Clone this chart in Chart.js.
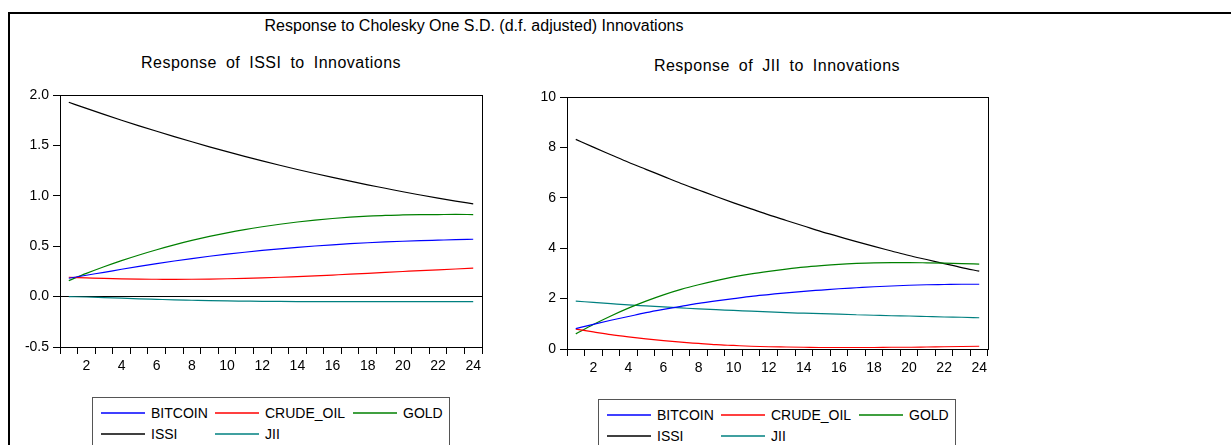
<!DOCTYPE html>
<html>
<head>
<meta charset="utf-8">
<title>Response to Cholesky One S.D. Innovations</title>
<script src="https://cdn.jsdelivr.net/npm/chart.js@4.4.0/dist/chart.umd.min.js"></script>
<style>
    body { margin: 0; background: #fff; font-family: "Liberation Sans", Arial, sans-serif; }
    #page { position: relative; width: 1231px; height: 445px; overflow: hidden; }
    .frame { position: absolute; left: 8px; top: 12px; width: 1240px; height: 450px;
        border-top: 2px solid #000; border-left: 2px solid #000; }
    .title { position: absolute; text-align: center; color: #000; white-space: nowrap; }
    .chartBox { position: absolute; }
    .legend { position: absolute; width: 356px; height: 60px; border: 1px solid #555; }
    .item { position: absolute; height: 18px; display: flex; align-items: center;
        font-size: 14px; color: #000; white-space: nowrap; }
    .item span.line { display: inline-block; width: 44px; height: 2px; margin-right: 6px; opacity: 0.75; }
</style>
</head>
<body>
<div id="page">
    <div class="frame"></div>
    <div class="title" style="left:0; width:948px; top:16px; font-size:16px; line-height:20px;">Response to Cholesky One S.D. (d.f. adjusted) Innovations</div>
    <div class="title" style="left:71px; width:400px; top:53px; font-size:16px; line-height:20px; letter-spacing:0.5px; word-spacing:4px;">Response of ISSI to Innovations</div>
    <div class="title" style="left:577px; width:400px; top:56px; font-size:16px; line-height:20px; letter-spacing:0.5px; word-spacing:4px;">Response of JII to Innovations</div>

    <div class="chartBox" style="left:0; top:80px; width:495px; height:300px;"><canvas id="chartIssi"></canvas></div>
    <div class="chartBox" style="left:500px; top:82px; width:500px; height:300px;"><canvas id="chartJii"></canvas></div>

    <div class="legend" id="legendIssi" style="left:92px; top:397px;"></div>
    <div class="legend" id="legendJii" style="left:598px; top:399px;"></div>
</div>

<script>
"use strict";

/* perioder och etiketter */
const periods = ['1', '2', '3', '4', '5', '6', '7', '8', '9', '10', '11', '12',
    '13', '14', '15', '16', '17', '18', '19', '20', '21', '22', '23', '24'];
const xTickLabels = ['2', '4', '6', '8', '10', '12', '14', '16', '18', '20', '22', '24'];

const seriesNames = ['BITCOIN', 'CRUDE_OIL', 'GOLD', 'ISSI', 'JII'];
const seriesColors = ['#0000ff', '#ff0000', '#008000', '#000000', '#008080'];

/* Response of ISSI */
const issiBitcoin = [0.182, 0.212, 0.241, 0.271, 0.300, 0.327, 0.353, 0.377, 0.400, 0.421, 0.440, 0.458,
    0.474, 0.489, 0.502, 0.514, 0.525, 0.534, 0.542, 0.549, 0.555, 0.560, 0.565, 0.569];
const issiCrudeOil = [0.192, 0.186, 0.180, 0.176, 0.173, 0.172, 0.171, 0.172, 0.174, 0.177, 0.181, 0.186,
    0.192, 0.199, 0.206, 0.214, 0.222, 0.231, 0.240, 0.249, 0.258, 0.266, 0.274, 0.282];
const issiGold = [0.159, 0.230, 0.296, 0.357, 0.413, 0.465, 0.513, 0.557, 0.597, 0.633, 0.665, 0.693,
    0.718, 0.740, 0.759, 0.775, 0.788, 0.798, 0.806, 0.810, 0.813, 0.814, 0.815, 0.814];
const issiIssi = [1.928, 1.867, 1.808, 1.750, 1.694, 1.640, 1.587, 1.536, 1.486, 1.438, 1.391, 1.346,
    1.303, 1.261, 1.221, 1.182, 1.145, 1.109, 1.075, 1.040, 1.008, 0.977, 0.948, 0.920];
const issiJii = [0.000, -0.004, -0.010, -0.016, -0.022, -0.027, -0.032, -0.036, -0.040, -0.043, -0.045, -0.047,
    -0.048, -0.049, -0.050, -0.050, -0.050, -0.050, -0.050, -0.050, -0.050, -0.050, -0.050, -0.050];
const issiYTicks = [-0.5, 0.0, 0.5, 1.0, 1.5, 2.0];

/* Response of JII */
const jiiBitcoin = [0.81, 0.98, 1.14, 1.29, 1.44, 1.57, 1.69, 1.81, 1.91, 2.00, 2.09, 2.16,
    2.23, 2.29, 2.34, 2.39, 2.43, 2.47, 2.50, 2.53, 2.55, 2.56, 2.57, 2.57];
const jiiCrudeOil = [0.79, 0.68, 0.57, 0.48, 0.40, 0.33, 0.27, 0.22, 0.17, 0.14, 0.11, 0.09,
    0.08, 0.07, 0.06, 0.06, 0.06, 0.06, 0.07, 0.07, 0.08, 0.09, 0.10, 0.11];
const jiiGold = [0.60, 0.97, 1.31, 1.62, 1.90, 2.15, 2.365, 2.55, 2.715, 2.86, 2.98, 3.08,
    3.17, 3.25, 3.31, 3.36, 3.395, 3.42, 3.43, 3.43, 3.42, 3.405, 3.385, 3.37];
const jiiIssi = [8.32, 8.01, 7.71, 7.41, 7.13, 6.85, 6.57, 6.31, 6.05, 5.80, 5.56, 5.32,
    5.10, 4.88, 4.66, 4.46, 4.26, 4.07, 3.89, 3.71, 3.55, 3.39, 3.23, 3.09];
const jiiJii = [1.90, 1.85, 1.80, 1.75, 1.71, 1.67, 1.63, 1.59, 1.56, 1.53, 1.50, 1.47,
    1.44, 1.42, 1.40, 1.38, 1.36, 1.34, 1.32, 1.31, 1.29, 1.27, 1.26, 1.24];
const jiiYTicks = [0, 2, 4, 6, 8, 10];

Chart.defaults.font.family = '"Liberation Sans", Arial, sans-serif';
Chart.defaults.font.size = 14;
Chart.defaults.color = '#000';

/* ram runt plottytan */
const plotBox = {
    id: 'plotBox',
    afterDraw(chart) {
        const a = chart.chartArea;
        const ctx = chart.ctx;
        ctx.save();
        ctx.strokeStyle = '#000';
        ctx.lineWidth = 1;
        ctx.strokeRect(Math.round(a.left) + 0.5, Math.round(a.top) + 0.5,
            Math.round(a.right - a.left), Math.round(a.bottom - a.top));
        ctx.restore();
    }
};

function makeChart(id, seriesData, yTicks, decimals, axisWidth, padRight) {
    const datasets = seriesData.map((values, i) => ({
        label: seriesNames[i],
        data: values,
        borderColor: seriesColors[i],
        borderWidth: 1.2,
        pointRadius: 0,
        cubicInterpolationMode: 'monotone',
        fill: false
    }));

    new Chart(document.getElementById(id), {
        type: 'line',
        data: { labels: periods, datasets: datasets },
        plugins: [plotBox],
        options: {
            responsive: true,
            maintainAspectRatio: false,
            animation: false,
            layout: { padding: { top: 15, right: padRight, bottom: 0, left: 0 } },
            plugins: { legend: { display: false }, tooltip: { enabled: false } },
            scales: {
                x: {
                    type: 'category',
                    offset: true,
                    grid: { offset: true, drawOnChartArea: false, tickLength: 7, color: '#000', tickColor: '#000' },
                    border: { color: '#000', width: 1 },
                    ticks: {
                        autoSkip: false,
                        maxRotation: 0,
                        padding: 4,
                        callback: function (value) {
                            const lbl = this.getLabelForValue(value);
                            return xTickLabels.includes(lbl) ? lbl : '';
                        }
                    },
                    afterFit: (scale) => { scale.height = 33; }
                },
                y: {
                    min: yTicks[0],
                    max: yTicks[yTicks.length - 1],
                    afterBuildTicks: (scale) => { scale.ticks = yTicks.map(v => ({ value: v })); },
                    grid: {
                        tickLength: 7,
                        tickColor: '#000',
                        color: (ctx) => (ctx.tick && ctx.tick.value === 0) ? '#000' : 'rgba(0,0,0,0)'
                    },
                    border: { color: '#000', width: 1 },
                    ticks: {
                        padding: 4,
                        callback: (v) => Number(v).toFixed(decimals)
                    },
                    afterFit: (scale) => { scale.width = axisWidth; }
                }
            }
        }
    });
}

/* legend i html, byggd av samma namn och färger */
function makeLegend(id) {
    const box = document.getElementById(id);
    const colX = [8, 122, 260];
    const rowY = [6, 27];
    seriesNames.forEach((name, i) => {
        const item = document.createElement('div');
        item.className = 'item';
        item.style.left = colX[i % 3] + 'px';
        item.style.top = rowY[Math.floor(i / 3)] + 'px';
        item.innerHTML = '<span class="line" style="background-color:' + seriesColors[i] + '"></span>' + name;
        box.appendChild(item);
    });
}

makeChart('chartIssi', [issiBitcoin, issiCrudeOil, issiGold, issiIssi, issiJii], issiYTicks, 1, 60, 13);
makeChart('chartJii', [jiiBitcoin, jiiCrudeOil, jiiGold, jiiIssi, jiiJii], jiiYTicks, 0, 67, 12);
makeLegend('legendIssi');
makeLegend('legendJii');
</script>
</body>
</html>
